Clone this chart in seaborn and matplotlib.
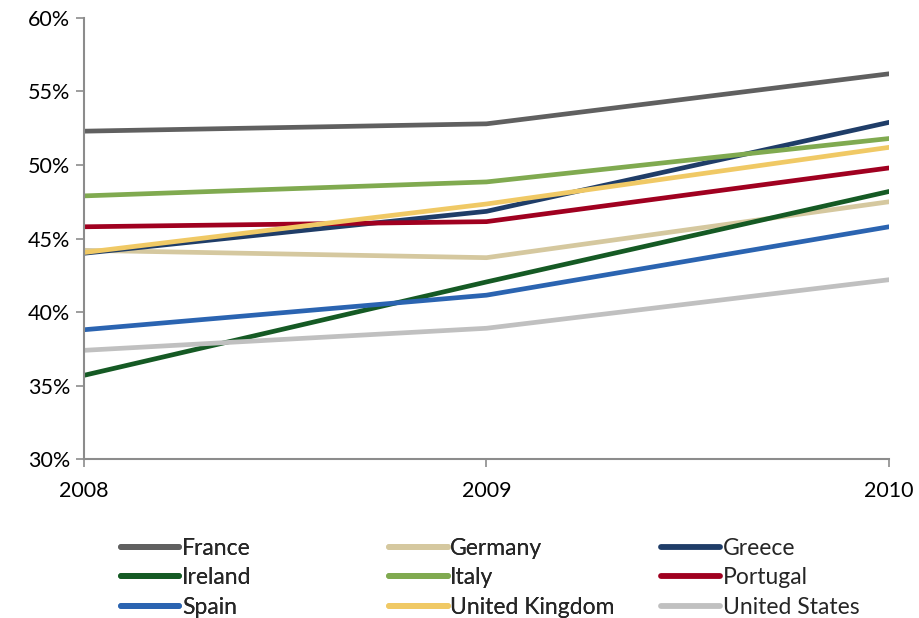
import matplotlib
matplotlib.use("Agg")
import matplotlib.pyplot as plt
import pandas as pd
import seaborn as sns
from matplotlib.ticker import PercentFormatter

years = [2008, 2009, 2010]
countries = ["France", "Germany", "Greece", "Ireland", "Italy",
             "Portugal", "Spain", "United Kingdom", "United States"]
france = [52.3, 52.8, 56.2]
germany = [44.2, 43.7, 47.5]
greece = [44.0, 46.85, 52.9]
ireland = [35.7, 42.05, 48.2]
italy = [47.9, 48.85, 51.8]
portugal = [45.8, 46.15, 49.8]
spain = [38.8, 41.15, 45.8]
uk = [44.05, 47.35, 51.2]
us = [37.4, 38.9, 42.2]
colors = ["#606060", "#D5C89F", "#1F3D68", "#155A24", "#80AA50",
          "#A00020", "#2B64B1", "#F0C965", "#C0C0C0"]

series = [france, germany, greece, ireland, italy, portugal, spain, uk, us]
rows = []
for name, vals in zip(countries, series):
    for yr, v in zip(years, vals):
        rows.append({"year": yr, "country": name, "value": v})
df = pd.DataFrame(rows)

sns.set_style("white")
plt.rcParams["font.family"] = ["Lato", "DejaVu Sans"]

fig = plt.figure(figsize=(9.2, 6.18), dpi=100)
ax = fig.add_axes([0.0913, 0.257, 0.875, 0.714])

sns.lineplot(data=df, x="year", y="value", hue="country",
             hue_order=countries, palette=colors, linewidth=3.4,
             ax=ax, legend=True)
for ln in ax.get_lines():
    ln.set_solid_capstyle("round")

ax.set_xlim(2008, 2010)
ax.set_ylim(30, 60)
ax.set_xticks(years)
ax.set_xticklabels([str(y) for y in years])
ax.set_yticks(range(30, 61, 5))
ax.yaxis.set_major_formatter(PercentFormatter(decimals=0))
ax.set_xlabel("")
ax.set_ylabel("")

for s in ["top", "right"]:
    ax.spines[s].set_visible(False)
for s in ["left", "bottom"]:
    ax.spines[s].set_color("#8C8C8C")
    ax.spines[s].set_linewidth(1.5)
ax.tick_params(axis="both", which="major", length=6, width=1.2,
               color="#8C8C8C", direction="out", labelsize=15.5,
               labelcolor="black")
ax.tick_params(axis="x", pad=10)
ax.tick_params(axis="y", pad=4)
ax.tick_params(left=True, bottom=True)

handles, labels = ax.get_legend_handles_labels()
ax.get_legend().remove()

# Excel-style legend: three fixed-width columns, filled row by row
col_x = [0.131, 0.423, 0.719]
for c in range(3):
    idx = [c, c + 3, c + 6]
    leg = fig.legend([handles[i] for i in idx], [labels[i] for i in idx],
                     loc="upper left", bbox_to_anchor=(col_x[c], 0.13),
                     ncol=1, frameon=False, fontsize=16.5, handlelength=2.55,
                     handletextpad=0.12, labelspacing=0.38, borderpad=0,
                     borderaxespad=0)
    for h in leg.get_lines():
        h.set_linewidth(4.2)
    if c < 2:
        fig.add_artist(leg)

fig.savefig("out.png", dpi=100)
